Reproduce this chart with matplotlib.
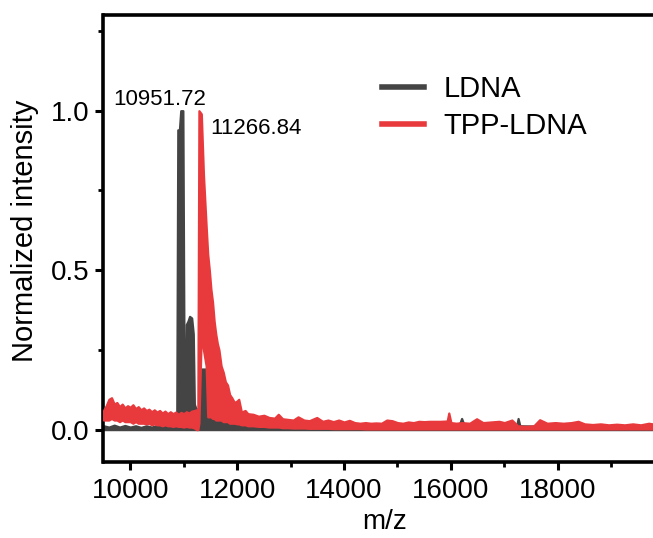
import numpy as np
import matplotlib
matplotlib.use('Agg')
import matplotlib.pyplot as plt
from matplotlib.lines import Line2D
from matplotlib.ticker import MultipleLocator

plt.rcParams['font.family'] = ['Liberation Sans', 'DejaVu Sans']

# LDNA spectrum as (m/z, upper edge, lower edge) of the trace
ldna_mz = [9500, 9600, 9700, 9800, 9900, 10000, 10100, 10200, 10300, 10400,
           10500, 10600, 10700, 10800, 10870, 10890, 10920, 10945, 10985, 11010,
           11030, 11050, 11080, 11110, 11150, 11180, 11200, 11240, 11290, 11335,
           11400, 11430, 11480, 11550, 11650, 11740, 11850, 12000, 12200, 12400,
           12700, 13000, 13400, 13800, 14200, 14600, 15000, 15400, 15800, 16150,
           16200, 16250, 16600, 17000, 17230, 17257, 17290, 17600, 18000, 18400,
           18800, 19200, 19600, 19950]
ldna_hi = [0.012, 0.008, 0.014, 0.008, 0.013, 0.008, 0.012, 0.007, 0.012, 0.008,
           0.013, 0.007, 0.012, 0.008, 0.015, 0.94, 0.94, 1.0, 1.0, 0.10,
           0.06, 0.33, 0.34, 0.355, 0.35, 0.30, 0.08, 0.06, 0.07, 0.19,
           0.19, 0.15, 0.10, 0.07, 0.05, 0.03, 0.025, 0.02, 0.018, 0.015,
           0.013, 0.012, 0.012, 0.011, 0.012, 0.011, 0.012, 0.011, 0.012, 0.012,
           0.035, 0.012, 0.012, 0.011, 0.012, 0.035, 0.012, 0.011, 0.010, 0.010,
           0.009, 0.010, 0.009, 0.010]
ldna_lo = [0.0] * len(ldna_mz)

# TPP-LDNA spectrum
tpp_mz = [9500, 9550, 9600, 9650, 9700, 9750, 9800, 9850, 9900, 9950,
          10000, 10050, 10100, 10150, 10200, 10250, 10300, 10350, 10400, 10450,
          10500, 10550, 10600, 10650, 10700, 10750, 10800, 10850, 10900, 10950,
          11000, 11050, 11100, 11150, 11200, 11240, 11265, 11285, 11330, 11370,
          11420, 11450, 11480, 11510, 11540, 11570, 11600, 11630, 11660, 11700,
          11740, 11780, 11820, 11860, 11900, 11950, 12000, 12030, 12080, 12150,
          12200, 12300, 12400, 12500, 12600, 12700, 12770, 12850, 12950, 13050,
          13140, 13250, 13350, 13490, 13600, 13700, 13800, 13900, 14000, 14100,
          14200, 14300, 14400, 14500, 14600, 14700, 14800, 14900, 15000, 15100,
          15200, 15300, 15400, 15500, 15600, 15800, 15930, 15960, 16000, 16100,
          16200, 16350, 16480, 16600, 16750, 16900, 17000, 17140, 17250, 17400,
          17550, 17660, 17800, 17950, 18100, 18250, 18380, 18500, 18650, 18800,
          18950, 19100, 19250, 19400, 19550, 19700, 19850, 19950]
tpp_hi = [0.060, 0.075, 0.095, 0.100, 0.080, 0.085, 0.072, 0.080, 0.068, 0.075,
          0.070, 0.078, 0.066, 0.072, 0.062, 0.068, 0.060, 0.064, 0.056, 0.062,
          0.055, 0.060, 0.052, 0.058, 0.050, 0.056, 0.050, 0.055, 0.048, 0.054,
          0.050, 0.056, 0.052, 0.058, 0.060, 0.062, 0.050, 1.0, 0.99, 0.80,
          0.64, 0.55, 0.50, 0.44, 0.40, 0.34, 0.30, 0.27, 0.25, 0.20,
          0.18, 0.15, 0.14, 0.11, 0.10, 0.085, 0.090, 0.095, 0.055, 0.060,
          0.050, 0.048, 0.042, 0.045, 0.038, 0.036, 0.048, 0.034, 0.032, 0.030,
          0.040, 0.030, 0.028, 0.038, 0.026, 0.030, 0.025, 0.030, 0.024, 0.029,
          0.022, 0.020, 0.022, 0.020, 0.021, 0.020, 0.030, 0.028, 0.022, 0.020,
          0.024, 0.022, 0.026, 0.025, 0.026, 0.026, 0.027, 0.052, 0.022, 0.020,
          0.022, 0.020, 0.034, 0.022, 0.024, 0.026, 0.022, 0.030, 0.012, 0.010,
          0.012, 0.031, 0.020, 0.022, 0.020, 0.022, 0.026, 0.018, 0.016, 0.018,
          0.015, 0.017, 0.015, 0.018, 0.015, 0.020, 0.016, 0.015]
tpp_lo = [0.030, 0.030, 0.030, 0.035, 0.030, 0.030, 0.025, 0.030, 0.025, 0.025,
          0.025, 0.020, 0.025, 0.020, 0.020, 0.020, 0.018, 0.020, 0.015, 0.018,
          0.015, 0.015, 0.012, 0.015, 0.012, 0.012, 0.010, 0.012, 0.010, 0.010,
          0.008, 0.010, 0.008, 0.008, 0.005, 0.0, 0.0, 0.02, 0.30, 0.25,
          0.20, 0.04, 0.04, 0.04, 0.035, 0.035, 0.030, 0.030, 0.030, 0.030,
          0.025, 0.025, 0.025, 0.020, 0.020, 0.020, 0.018, 0.018, 0.015, 0.015,
          0.012, 0.012, 0.010, 0.010, 0.008, 0.008, 0.008, 0.006, 0.006, 0.005,
          0.005, 0.005, 0.004, 0.004, 0.004, 0.004, 0.003, 0.003, 0.003, 0.003,
          0.003, 0.003, 0.002, 0.002, 0.002, 0.002, 0.002, 0.002, 0.002, 0.002,
          0.002, 0.002, 0.002, 0.002, 0.002, 0.002, 0.002, 0.002, 0.002, 0.002,
          0.002, 0.002, 0.002, 0.002, 0.002, 0.002, 0.002, 0.002, 0.002, 0.002,
          0.002, 0.002, 0.002, 0.002, 0.002, 0.002, 0.002, 0.002, 0.002, 0.002,
          0.002, 0.002, 0.002, 0.002, 0.002, 0.002, 0.002, 0.002]

peak_labels = ['10951.72', '11266.84']
series_names = ['LDNA', 'TPP-LDNA']
gray = '#444444'
red = '#e8393c'

fig = plt.figure(figsize=(6.53, 5.38), dpi=100)
W, H = 653, 538
ax = fig.add_axes([103.5 / W, 1 - 461.5 / H, (660 - 103.5) / W, (461.5 - 15) / H])

ax.fill_between(ldna_mz, ldna_lo, ldna_hi, color=gray, lw=1.6, zorder=2)
ax.fill_between(tpp_mz, tpp_lo, tpp_hi, color=red, lw=1.6, zorder=3)

ax.set_xlim(9500, 19912)
ax.set_ylim(-0.1, 1.3)
ax.xaxis.set_major_locator(MultipleLocator(2000))
ax.xaxis.set_minor_locator(MultipleLocator(1000))
ax.yaxis.set_major_locator(MultipleLocator(0.5))
ax.yaxis.set_minor_locator(MultipleLocator(0.25))
ax.set_yticks([0.0, 0.5, 1.0])
ax.set_yticklabels(['0.0', '0.5', '1.0'])

for s in ax.spines.values():
    s.set_linewidth(2.6)
ax.tick_params(which='major', direction='out', length=6, width=2.2,
               labelsize=20, color='black')
ax.tick_params(which='minor', direction='out', length=3.5, width=2.0)
ax.tick_params(axis='x', pad=6)
ax.tick_params(axis='y', pad=4)

ax.set_xlabel('m/z', fontsize=20)
ax.set_ylabel('Normalized intensity', fontsize=21)
ax.xaxis.set_label_coords((385 - 103.5) / 556.5, (461.5 - 522) / 446.5)
ax.xaxis.label.set_va('center')
ax.yaxis.set_label_coords((25 - 103.5) / 556.5, (461.5 - 231) / 446.5)
ax.yaxis.label.set_va('center')

ax.text(9678, 1.034, peak_labels[0], fontsize=16, ha='left', va='center')
ax.text(11493, 0.944, peak_labels[1], fontsize=16, ha='left', va='center')

handles = [Line2D([], [], color=gray, lw=4), Line2D([], [], color=red, lw=4)]
ax.legend(handles, series_names, loc='upper left',
          bbox_to_anchor=(381.7 / W, 1 - 75 / H), bbox_transform=fig.transFigure,
          frameon=False, fontsize=21, borderpad=0, borderaxespad=0,
          handlelength=1.45, handletextpad=0.68, labelspacing=0.3)

fig.savefig('out.png', dpi=100)
